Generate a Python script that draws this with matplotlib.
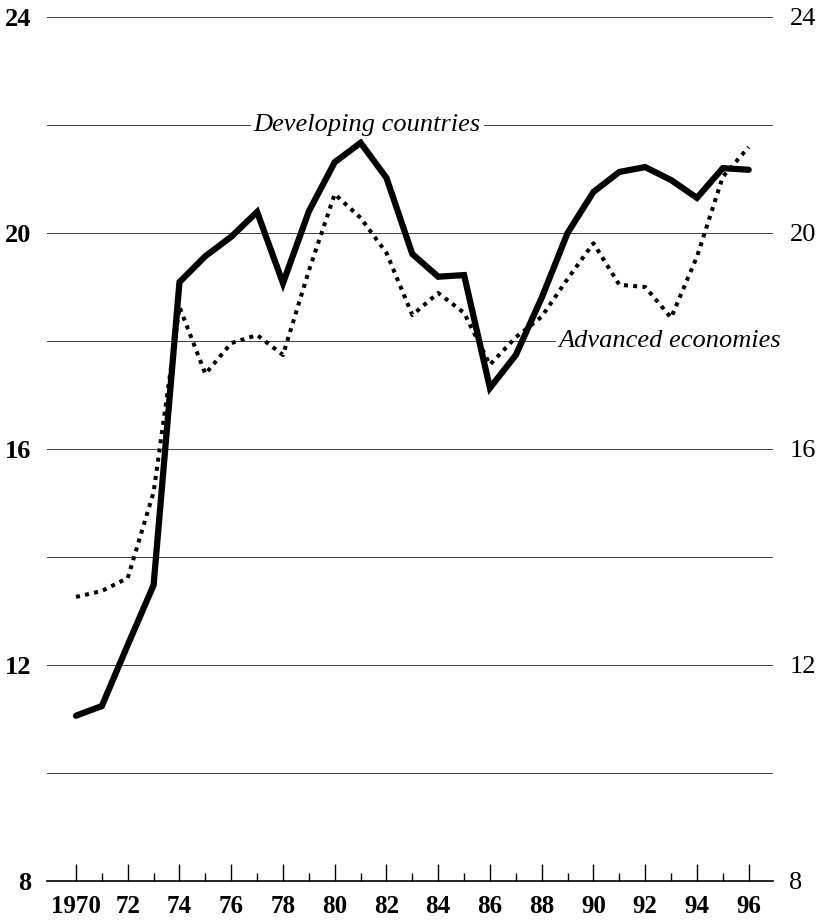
import matplotlib
matplotlib.use("Agg")
import matplotlib.pyplot as plt

# ── data ──────────────────────────────────────────────────────────────────────
years = list(range(1970, 1997))
developing = [11.06, 11.24, 12.37, 13.48, 19.09, 19.57, 19.93, 20.39, 19.07,
              20.40, 21.31, 21.67, 21.02, 19.61, 19.19, 19.22, 17.13, 17.74,
              18.80, 20.00, 20.76, 21.13, 21.22, 20.98, 20.65, 21.20, 21.17]
advanced = [13.26, 13.37, 13.61, 15.20, 18.63, 17.39, 17.96, 18.11, 17.74,
            19.30, 20.72, 20.28, 19.63, 18.48, 18.89, 18.52, 17.56, 18.07,
            18.45, 19.15, 19.81, 19.04, 19.00, 18.43, 19.56, 21.04, 21.59]
xtick_labels = ["1970", "72", "74", "76", "78", "80", "82", "84", "86",
                "88", "90", "92", "94", "96"]
yticks = [8, 12, 16, 20, 24]
gridlines = [10, 12, 14, 16, 18, 20, 22, 24]

serif = ["Liberation Serif", "DejaVu Serif"]
plt.rcParams["font.family"] = serif

fig = plt.figure(figsize=(8.16, 9.22), dpi=100)
ax = fig.add_axes([0.0576, 0.0445, 0.8894, 0.9371])

# grid
for g in gridlines:
    ax.axhline(g, color="0.25", lw=0.7, zorder=1)

ax.plot(years, developing, color="black", lw=4.5, solid_joinstyle="miter",
        solid_capstyle="round", zorder=4)
ax.plot(years, advanced, color="black", lw=2.9, linestyle=(0, (1.0, 1.3)),
        zorder=3)

ax.set_xlim(1968.88, 1996.93)
ax.set_ylim(8, 24)

# x axis: baseline with upward ticks
ax.set_xticks(years[::2])
ax.set_xticklabels(xtick_labels, fontsize=18, fontweight="bold")
ax.set_xticks(years[1::2], minor=True)
ax.tick_params(axis="x", which="major", direction="in", length=12, width=1,
               pad=10)
ax.tick_params(axis="x", which="minor", direction="in", length=6, width=1)

# y labels on both sides, no tick marks
ax.set_yticks(yticks)
ax.set_yticklabels([str(v) for v in yticks], fontsize=19, fontweight="bold")
ax.tick_params(axis="y", which="both", length=0, pad=11)
ax2 = ax.twinx()
ax2.set_ylim(ax.get_ylim())
ax2.set_yticks(yticks)
ax2.set_yticklabels([str(v) for v in yticks], fontsize=19)
ax2.tick_params(axis="y", length=0, pad=12)

for a in (ax, ax2):
    for side in ("top", "left", "right"):
        a.spines[side].set_visible(False)
ax.spines["bottom"].set_linewidth(1.2)
ax2.spines["bottom"].set_visible(False)

# series labels
box = dict(facecolor="white", edgecolor="none", pad=2)
ax.text(1981.25, 22.0, "Developing countries", fontsize=19, style="italic",
        ha="center", va="center", bbox=box, zorder=5)
ax.text(1992.95, 18.0, "Advanced economies", fontsize=19, style="italic",
        ha="center", va="center", bbox=box, zorder=5)

fig.savefig("out.png", dpi=100)
